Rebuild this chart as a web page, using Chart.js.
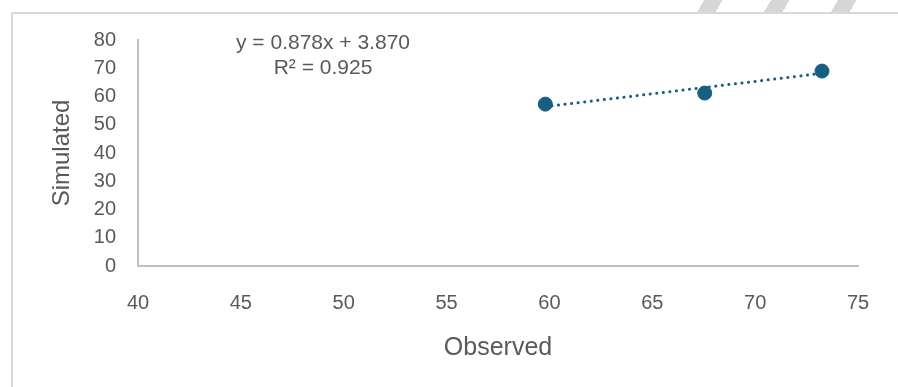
<!DOCTYPE html>
<html lang="en">
<head>
  <meta charset="UTF-8" />
  <title>Observed vs Simulated</title>
  <style>
    * { box-sizing: border-box; margin: 0; padding: 0; }
    body { width: 898px; height: 387px; background: #fff; overflow: hidden; position: relative; font-family: 'Liberation Sans', Arial, sans-serif; }
    .hatch {
      position: absolute; left: 690px; top: 0; width: 208px; height: 12px;
      background: repeating-linear-gradient(-60deg, transparent 0 42px, #d6d6d6 42px 58px);
    }
    .frame {
      position: absolute; left: 11px; top: 12px; width: 900px; height: 400px;
      border-left: 2px solid #d9d9d9; border-top: 2px solid #d9d9d9;
    }
    canvas { position: absolute; left: 0; top: 0; }
  </style>
</head>
<body>
  <div class="hatch"></div>
  <div class="frame"></div>
  <canvas id="scatter" width="898" height="387"></canvas>

  <script src="https://cdn.jsdelivr.net/npm/chart.js"></script>
  <script>
    // data
    const observed = [59.8, 67.55, 73.25];
    const simulated = [57.3, 61.2, 69.0];
    const trendX = [59.8, 73.25];
    const trendY = [56.4, 68.2];
    const eqLines = ['y = 0.878x + 3.870', 'R\u00b2 = 0.925'];

    const textColor = '#595959';
    const dotColor = '#175e82';
    const fontFam = '"Liberation Sans", Arial, sans-serif';

    const points = observed.map((x, i) => ({ x: x, y: simulated[i] }));
    const trend = trendX.map((x, i) => ({ x: x, y: trendY[i] }));

    // equation label, like the Excel trendline label
    const eqLabel = {
      id: 'eqLabel',
      afterDraw(chart) {
        const c = chart.ctx;
        c.save();
        c.fillStyle = textColor;
        c.font = '21px ' + fontFam;
        c.textAlign = 'center';
        c.textBaseline = 'middle';
        c.fillText(eqLines[0], 323, 43);
        c.fillText(eqLines[1], 323, 68);
        c.restore();
      }
    };

    new Chart(document.getElementById('scatter'), {
      type: 'scatter',
      data: {
        datasets: [
          {
            label: 'Simulated',
            data: points,
            backgroundColor: dotColor,
            borderColor: dotColor,
            pointRadius: 7,
            pointHoverRadius: 7
          },
          {
            label: 'Trend',
            data: trend,
            showLine: true,
            borderColor: dotColor,
            borderWidth: 3,
            borderDash: [0.1, 6.5],
            borderCapStyle: 'round',
            pointRadius: 0,
            fill: false
          }
        ]
      },
      options: {
        responsive: false,
        animation: false,
        layout: { padding: { top: 40, right: 40, left: 48, bottom: 24 } },
        plugins: {
          legend: { display: false },
          tooltip: { enabled: false }
        },
        scales: {
          x: {
            type: 'linear',
            min: 40,
            max: 75,
            afterFit: (s) => { s.height = 97; },
            ticks: { stepSize: 5, color: textColor, padding: 25, font: { size: 20, family: fontFam } },
            grid: { display: false, drawTicks: false },
            border: { display: true, color: '#bfbfbf', width: 2 },
            title: { display: true, text: 'Observed', color: textColor, padding: 0, font: { size: 25, family: fontFam } }
          },
          y: {
            min: 0,
            max: 80,
            afterFit: (s) => { s.width = 90; },
            ticks: { stepSize: 10, color: textColor, padding: 22, font: { size: 20, family: fontFam } },
            grid: { display: false, drawTicks: false },
            border: { display: true, color: '#bfbfbf', width: 2 },
            title: { display: true, text: 'Simulated', color: textColor, padding: 0, font: { size: 24, family: fontFam } }
          }
        }
      },
      plugins: [eqLabel]
    });
  </script>
</body>
</html>
